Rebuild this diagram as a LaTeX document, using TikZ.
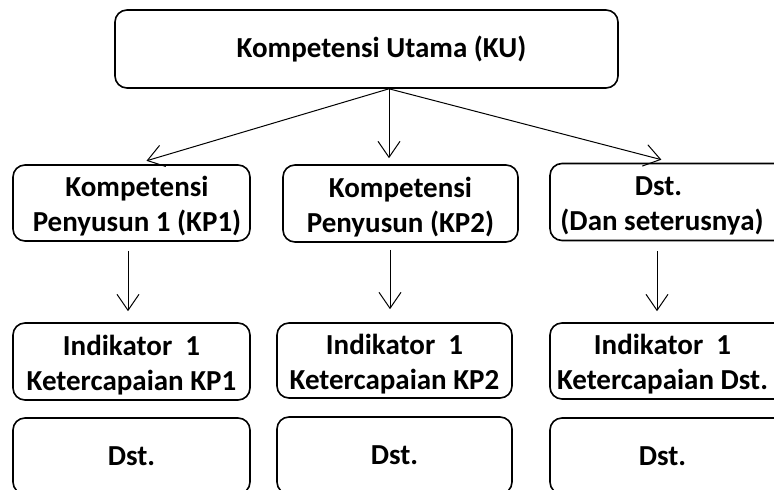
\documentclass[tikz,border=0pt]{standalone}
\usepackage{fontspec}
\setmainfont{Carlito}
\usetikzlibrary{arrows.meta}
\newcommand\topstrut{\rule{0pt}{27pt}}
\tikzset{
  box/.style={draw=black, line width=1.6pt, rounded corners=12pt, align=center,
    inner sep=0pt, font=\fontsize{29}{35}\selectfont\bfseries},
  conn/.style={draw=black, line width=1pt,
    -{Straight Barb[length=16pt,width=22pt,line width=1pt]}},
}
\begin{document}
\begin{tikzpicture}[x=1pt,y=-1pt]
\useasboundingbox (0,0) rectangle (774,490);
\clip (0,0) rectangle (774,490);
% top
\node[box, minimum width=503pt, minimum height=78pt] (ku) at (366.5,49) {\hspace*{30pt}Kompetensi Utama (KU)};
% row 2
\node[box, minimum width=237pt, minimum height=76pt] (kp1) at (131.5,203) {\topstrut\hspace*{11pt}Kompetensi\\\hspace*{11pt}Penyusun 1 (KP1)};
\node[box, minimum width=235pt, minimum height=77pt] (kp2) at (400.5,203.5) {\topstrut Kompetensi\\Penyusun (KP2)};
\node[box, minimum width=237pt, minimum height=77pt] (kp3) at (668.5,202) {\topstrut\hspace*{-20pt}Dst.\\\hspace*{-13pt}(Dan seterusnya)};
% row 3
\node[box, minimum width=237pt, minimum height=77pt] (in1) at (131.5,361.5) {\topstrut Indikator~~1\\Ketercapaian KP1};
\node[box, minimum width=235pt, minimum height=75pt] (in2) at (394.5,360.5) {\topstrut Indikator~~1\\Ketercapaian KP2};
\node[box, minimum width=237pt, minimum height=76pt] (in3) at (668.5,361) {\topstrut\hspace*{-12pt}Indikator~~1\\\hspace*{-12pt}Ketercapaian Dst.};
% row 4
\node[box, minimum width=237pt, minimum height=76pt] (ds1) at (131.5,456) {Dst.};
\node[box, minimum width=235pt, minimum height=77pt] (ds2) at (394.5,455.5) {Dst.};
\node[box, minimum width=237pt, minimum height=76pt] (ds3) at (668.5,456) {\hspace*{-12pt}Dst.};
% connectors
\draw[conn, shorten >=12pt] ([xshift=22.5pt]ku.south) -- ([xshift=3.5pt]kp1.north);
\draw[conn, shorten >=6pt] ([xshift=22.5pt]ku.south) -- ([xshift=-11.5pt]kp2.north);
\draw[conn, shorten >=12pt] ([xshift=22.5pt]ku.south) -- ([xshift=4.5pt]kp3.north);
\draw[conn, shorten <=9pt, shorten >=11pt] ([xshift=-3.5pt]kp1.south) -- ([xshift=-3.5pt]in1.north);
\draw[conn, shorten <=7pt, shorten >=13pt] ([xshift=-10.5pt]kp2.south) -- ([xshift=-4.5pt]in2.north);
\draw[conn, shorten <=10pt, shorten >=11pt] ([xshift=-11.5pt]kp3.south) -- ([xshift=-11.5pt]in3.north);
\end{tikzpicture}
\end{document}
